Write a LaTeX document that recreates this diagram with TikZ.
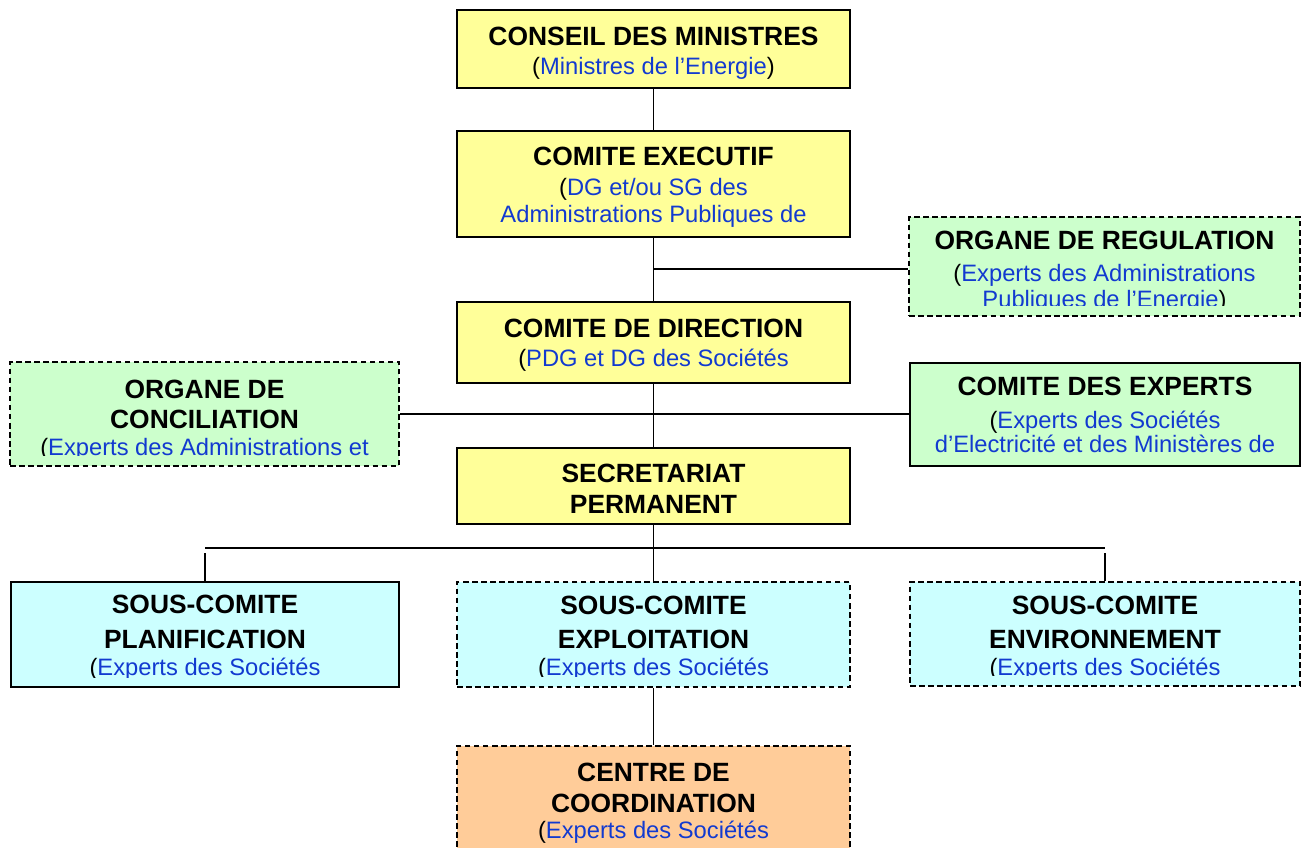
\documentclass[tikz,border=0pt]{standalone}
\usepackage{fontspec}
\setmainfont{Liberation Sans}
\usetikzlibrary{fit,calc}
\definecolor{ylw}{RGB}{255,255,153}
\definecolor{grn}{RGB}{204,255,204}
\definecolor{cyn}{RGB}{204,255,255}
\definecolor{org}{RGB}{255,204,153}
\definecolor{txtblue}{RGB}{18,58,208}
\newcommand\opar{\textcolor{black}{(}}
\newcommand\cpar{\textcolor{black}{)}}
\newcommand\boxclip[1]{\clip ($(#1.north west)$) rectangle ($(#1.south east)+(0,-11)$);}
\tikzset{
  solidbox/.style={draw=black, line width=1.5pt, rectangle, inner sep=0pt},
  dashbox/.style={draw=black, line width=1.3pt, dash pattern=on 4.2pt off 2.6pt, rectangle, inner sep=0pt},
  ttl/.style={font=\fontsize{19.8}{24}\selectfont\bfseries, anchor=base, inner sep=0pt},
  sub/.style={font=\fontsize{17.8}{22}\selectfont, text=txtblue, anchor=base, inner sep=0pt},
  link/.style={line width=1.35pt, draw=black},
}
\begin{document}
\begin{tikzpicture}[x=0.75pt,y=-0.75pt]
\useasboundingbox (0,0) rectangle (1302,847);
% boxes
\node[solidbox, fill=ylw, fit={(457,10) (850,88)}] (conseil) {};
\node[solidbox, fill=ylw, fit={(457,131) (850,237)}] (executif) {};
\node[dashbox, fill=grn, fit={(909,217) (1300,316)}] (regul) {};
\node[solidbox, fill=ylw, fit={(457,302) (850,383)}] (direction) {};
\node[dashbox, fill=grn, fit={(10,362) (399,466)}] (concil) {};
\node[solidbox, fill=grn, fit={(910,363) (1300,466)}] (experts) {};
\node[solidbox, fill=ylw, fit={(457,448) (850,524)}] (secret) {};
\node[solidbox, fill=cyn, fit={(11,582) (399,687)}] (planif) {};
\node[dashbox, fill=cyn, fit={(457,582) (850,687)}] (exploit) {};
\node[dashbox, fill=cyn, fit={(910,582) (1300,686)}] (envir) {};
\node[dashbox, fill=org, fit={(457,746) (850,880)}] (centre) {};
% texts
\begin{scope}\boxclip{conseil}
\node[ttl] (conseil-a) at (653.5,45) {CONSEIL DES MINISTRES};
\node[sub] (conseil-b) at (653.5,74) {\opar Ministres de l’Energie\cpar};
\end{scope}
\begin{scope}\boxclip{executif}
\node[ttl] (executif-a) at (653.5,165) {COMITE EXECUTIF};
\node[sub] (executif-b) at (653.5,195) {\opar DG et/ou SG des};
\node[sub] (executif-c) at (653.5,222) {Administrations Publiques de};
\end{scope}
\begin{scope}\boxclip{regul}
\node[ttl] (regul-a) at (1104.5,249) {ORGANE DE REGULATION};
\node[sub] (regul-b) at (1104.5,281) {\opar Experts des Administrations};
\node[sub] (regul-c) at (1104.5,307) {Publiques de l’Energie\cpar};
\end{scope}
\begin{scope}\boxclip{direction}
\node[ttl] (direction-a) at (653.5,337) {COMITE DE DIRECTION};
\node[sub] (direction-b) at (653.5,366) {\opar PDG et DG des Sociétés};
\end{scope}
\begin{scope}\boxclip{concil}
\node[ttl] (concil-a) at (204.5,398) {ORGANE DE};
\node[ttl] (concil-b) at (204.5,428) {CONCILIATION};
\node[sub] (concil-c) at (204.5,455) {\opar Experts des Administrations et};
\end{scope}
\begin{scope}\boxclip{experts}
\node[ttl] (experts-a) at (1105,395) {COMITE DES EXPERTS};
\node[sub] (experts-b) at (1105,428) {\opar Experts des Sociétés};
\node[sub] (experts-c) at (1105,452) {d’Electricité et des Ministères de};
\end{scope}
\begin{scope}\boxclip{secret}
\node[ttl] (secret-a) at (653.5,482) {SECRETARIAT};
\node[ttl] (secret-b) at (653.5,513) {PERMANENT};
\end{scope}
\begin{scope}\boxclip{planif}
\node[ttl] (planif-a) at (205,613) {SOUS-COMITE};
\node[ttl] (planif-b) at (205,648) {PLANIFICATION};
\node[sub] (planif-c) at (205,675) {\opar Experts des Sociétés};
\end{scope}
\begin{scope}\boxclip{exploit}
\node[ttl] (exploit-a) at (653.5,614) {SOUS-COMITE};
\node[ttl] (exploit-b) at (653.5,648) {EXPLOITATION};
\node[sub] (exploit-c) at (653.5,675) {\opar Experts des Sociétés};
\end{scope}
\begin{scope}\boxclip{envir}
\node[ttl] (envir-a) at (1105,614) {SOUS-COMITE};
\node[ttl] (envir-b) at (1105,648) {ENVIRONNEMENT};
\node[sub] (envir-c) at (1105,675) {\opar Experts des Sociétés};
\end{scope}
\begin{scope}
\node[ttl] (centre-a) at (653.5,781) {CENTRE DE};
\node[ttl] (centre-b) at (653.5,812) {COORDINATION};
\node[sub] (centre-c) at (653.5,838) {\opar Experts des Sociétés};
\end{scope}
% connectors
\coordinate (j1) at (653.5,269);
\coordinate (bl) at (205,548);
\coordinate (br) at (1105,548);
\coordinate (dl) at (205,553);
\coordinate (dr) at (1105,553);
\draw[link] (conseil.south) -- (executif.north);
\draw[link] (executif.south) -- (direction.north);
\draw[link] (j1) -- (regul.west |- j1);
\draw[link] (direction.south) -- (secret.north);
\draw[link] (concil.east) -- (experts.west |- concil.east);
\draw[link] (secret.south) -- (exploit.north);
\draw[link] (bl) -- (br);
\draw[link] (dl) -- (planif.north -| dl);
\draw[link] (dr) -- (envir.north -| dr);
\draw[link] (exploit.south) -- (centre.north);
\end{tikzpicture}
\end{document}
